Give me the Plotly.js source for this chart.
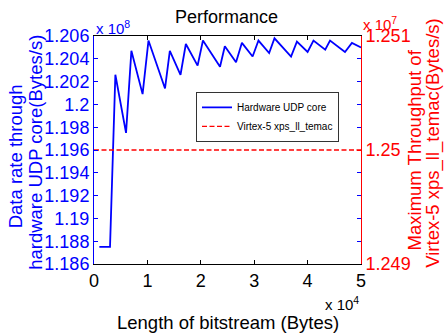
<!DOCTYPE html>
<html>
<head>
<meta charset="utf-8">
<script src="https://cdn.plot.ly/plotly-3.0.1.min.js"></script>
<style>html,body{margin:0;padding:0;background:#fff;}#chart{width:444px;height:333px;}</style>
</head>
<body>
<div id="chart"></div>
<script>
// Length of bitstream, in units of 10^4 Bytes
var lengthX1e4 = [0.1, 0.2, 0.3, 0.4, 0.6, 0.7, 0.91, 1.02, 1.33, 1.42, 1.62, 1.72, 1.94, 2.04, 2.36, 2.45, 2.66, 2.77, 2.97, 3.08, 3.28, 3.38, 3.69, 3.8, 4.0, 4.11, 4.33, 4.42, 4.7, 4.83, 5.0];
// Data rate of hardware UDP core, in units of 10^8 Bytes/s
var udpRateX1e8 = [1.1875, 1.1875, 1.1875, 1.2026, 1.1975, 1.2047, 1.2009, 1.2056, 1.2014, 1.2047, 1.2026, 1.2053, 1.2034, 1.2056, 1.2033, 1.2051, 1.2037, 1.2054, 1.2042, 1.2056, 1.2045, 1.2058, 1.2042, 1.2055, 1.2046, 1.2056, 1.2048, 1.2056, 1.2046, 1.2054, 1.2050];
// Virtex-5 xps_ll_temac max throughput, in units of 10^7 Bytes/s
var temacX = [0, 5];
var temacX1e7 = [1.25, 1.25];

var xTickVals = [0, 1, 2, 3, 4, 5];
var xTickText = ["0", "1", "2", "3", "4", "5"];
var yTickVals = [1.186, 1.188, 1.19, 1.192, 1.194, 1.196, 1.198, 1.2, 1.202, 1.204, 1.206];
var yTickText = ["1.186", "1.188", "1.19", "1.192", "1.194", "1.196", "1.198", "1.2", "1.202", "1.204", "1.206"];
var y2TickVals = [1.249, 1.25, 1.251];
var y2TickText = ["1.249", "1.25", "1.251"];

var FONT = "Liberation Sans, Arial, Helvetica, sans-serif";
var BLUE = "#0000ff", RED = "#ff0000";

var traces = [
  {x: lengthX1e4, y: udpRateX1e8, type: "scatter", mode: "lines", name: "Hardware UDP core",
   line: {color: BLUE, width: 1.8}, yaxis: "y"},
  {x: temacX, y: temacX1e7, type: "scatter", mode: "lines", name: "Virtex-5 xps_ll_temac",
   line: {color: RED, width: 1.3, dash: "5px,2.5px"}, yaxis: "y2"}
];

var layout = {
  width: 444, height: 333,
  margin: {l: 94, r: 83, t: 36, b: 69, pad: 0},
  paper_bgcolor: "#ffffff", plot_bgcolor: "#ffffff",
  font: {family: FONT, size: 18, color: "#000"},
  title: {text: "Performance", font: {family: FONT, size: 18, color: "#000"},
          x: 0.51, xanchor: "center", y: 0.95, yanchor: "middle"},
  showlegend: true,
  legend: {x: 0.382, y: 0.755, xanchor: "left", yanchor: "top",
           bgcolor: "#ffffff", bordercolor: "#333", borderwidth: 1,
           font: {family: FONT, size: 10, color: "#000"}},
  xaxis: {range: [0, 5], tickvals: xTickVals, ticktext: xTickText,
          ticks: "inside", ticklen: 4, tickcolor: "#000", showline: true, linecolor: "#000", linewidth: 1,
          mirror: "ticks", showgrid: false, zeroline: false,
          tickfont: {family: FONT, size: 18, color: "#000"}},
  yaxis: {range: [1.186, 1.206], tickvals: yTickVals, ticktext: yTickText,
          ticks: "inside", ticklen: 4, tickcolor: BLUE, showline: true, linecolor: BLUE, linewidth: 1,
          mirror: "ticks", showgrid: false, zeroline: false,
          tickfont: {family: FONT, size: 18, color: BLUE}},
  yaxis2: {overlaying: "y", side: "right", range: [1.249, 1.251], tickvals: y2TickVals, ticktext: y2TickText,
           ticks: "inside", ticklen: 4, tickcolor: RED, showline: true, linecolor: RED, linewidth: 1,
           showgrid: false, zeroline: false,
           tickfont: {family: FONT, size: 18, color: RED}},
  annotations: [
    {text: "x 10<sup>8</sup>", xref: "paper", yref: "paper", x: 0, y: 1, xanchor: "left", yanchor: "bottom", yshift: -3,
     showarrow: false, font: {family: FONT, size: 15, color: BLUE}},
    {text: "x 10<sup>7</sup>", xref: "paper", yref: "paper", x: 1.0, y: 1, xanchor: "left", yanchor: "bottom", yshift: 1,
     showarrow: false, font: {family: FONT, size: 15, color: RED}},
    {text: "x 10<sup>4</sup>", xref: "paper", yref: "paper", x: 1.0, y: -0.175, xanchor: "right", yanchor: "middle",
     showarrow: false, font: {family: FONT, size: 15, color: "#000"}},
    {text: "Length of bitstream (Bytes)", xref: "paper", yref: "paper", x: 0.5, y: -0.255, xanchor: "center", yanchor: "middle",
     showarrow: false, font: {family: FONT, size: 18.5, color: "#000"}},
    {text: "Data rate through", xref: "paper", yref: "paper", x: -0.294, y: 0.47, xanchor: "center", yanchor: "middle",
     textangle: -90, showarrow: false, font: {family: FONT, size: 18.5, color: BLUE}},
    {text: "hardware UDP core(Bytes/s)", xref: "paper", yref: "paper", x: -0.219, y: 0.49, xanchor: "center", yanchor: "middle",
     textangle: -90, showarrow: false, font: {family: FONT, size: 18.5, color: BLUE}},
    {text: "Maximum Throughput of", xref: "paper", yref: "paper", x: 1.2, y: 0.5, xanchor: "center", yanchor: "middle",
     textangle: -90, showarrow: false, font: {family: FONT, size: 18.5, color: RED}},
    {text: "Virtex-5 xps_ll_temac(Bytes/s)", xref: "paper", yref: "paper", x: 1.272, y: 0.53, xanchor: "center", yanchor: "middle",
     textangle: -90, showarrow: false, font: {family: FONT, size: 18.5, color: RED}}
  ]
};

Plotly.newPlot("chart", traces, layout, {staticPlot: true, displayModeBar: false});
</script>
</body>
</html>
